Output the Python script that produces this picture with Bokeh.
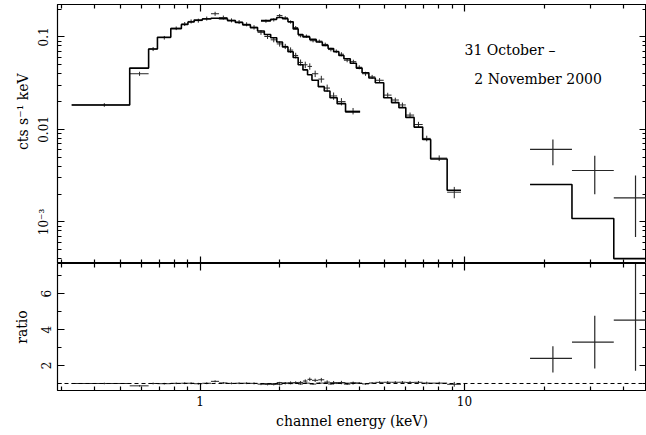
import math
import json
import numpy as np
from bokeh.plotting import figure
from bokeh.layouts import column
from bokeh.models import FixedTicker, LogAxis, LinearAxis, Range1d, Label, Span, CustomJSTickFormatter
from bokeh.embed import file_html
from bokeh.resources import INLINE

# ---------------- data ----------------
lecs_edges = [0.327, 0.542, 0.639, 0.69, 0.775, 0.85, 0.90, 0.95, 1.02, 1.10, 1.18,
              1.27, 1.36, 1.45, 1.55, 1.65, 1.75, 1.85, 1.95, 2.05, 2.15, 2.25, 2.35,
              2.45, 2.55, 2.65, 2.80, 2.95, 3.10, 3.30, 3.55, 4.03]
lecs_model = [0.0184, 0.046, 0.074, 0.099, 0.123, 0.136, 0.145, 0.152, 0.156, 0.159,
              0.157, 0.150, 0.143, 0.135, 0.126, 0.116, 0.106, 0.098, 0.088, 0.078,
              0.069, 0.060, 0.050, 0.044, 0.039, 0.034, 0.029, 0.026, 0.022, 0.019, 0.0155]
lecs_data = [0.0184, 0.040, 0.074, 0.098, 0.124, 0.138, 0.147, 0.150, 0.158, 0.178,
             0.162, 0.151, 0.145, 0.137, 0.127, 0.112, 0.101, 0.093, 0.084, 0.079,
             0.072, 0.063, 0.053, 0.050, 0.048, 0.040, 0.035, 0.028, 0.023, 0.020, 0.0158]
lecs_relerr = [0.045, 0.05, 0.05, 0.045, 0.045, 0.05, 0.05, 0.05, 0.05, 0.05,
               0.05, 0.05, 0.05, 0.05, 0.055, 0.06, 0.06, 0.06, 0.065, 0.065,
               0.07, 0.07, 0.075, 0.08, 0.08, 0.08, 0.085, 0.09, 0.09, 0.09, 0.08]

mecs_edges = [1.70, 1.85, 1.95, 2.05, 2.15, 2.25, 2.35, 2.45, 2.60, 2.75, 2.90, 3.05,
              3.20, 3.35, 3.50, 3.70, 3.90, 4.10, 4.35, 4.60, 4.95, 5.30, 5.65, 6.00,
              6.45, 6.95, 7.45, 8.60, 9.70]
mecs_model = [0.150, 0.155, 0.162, 0.157, 0.146, 0.122, 0.106, 0.100, 0.094, 0.088,
              0.081, 0.075, 0.069, 0.063, 0.058, 0.052, 0.046, 0.041, 0.036, 0.032,
              0.022, 0.0195, 0.0172, 0.0135, 0.0106, 0.0078, 0.0048, 0.0022]
mecs_data = [0.148, 0.153, 0.170, 0.161, 0.145, 0.126, 0.103, 0.102, 0.091, 0.090,
             0.083, 0.073, 0.070, 0.065, 0.056, 0.054, 0.047, 0.040, 0.037, 0.034,
             0.0235, 0.0208, 0.0184, 0.0143, 0.0113, 0.0080, 0.0049, 0.0021]
mecs_relerr = [0.04, 0.04, 0.04, 0.04, 0.04, 0.04, 0.04, 0.04, 0.04, 0.04,
               0.045, 0.045, 0.045, 0.05, 0.05, 0.05, 0.05, 0.05, 0.05, 0.055,
               0.06, 0.06, 0.06, 0.065, 0.07, 0.07, 0.07, 0.14]

pds_edges = [17.7, 25.5, 36.7, 52.0]
pds_model = [0.00254, 0.00109, 0.000402]
pds_data = [0.0061, 0.0036, 0.00182]
pds_err_lo = [0.0020, 0.0016, 0.00113]
pds_err_hi = [0.0017, 0.0016, 0.00135]

x_tick_labels = {1: "1", 10: "10"}
y_tick_labels = {0.001: "10\u207b\u00b3", 0.01: "0.01", 0.1: "0.1"}
ratio_tick_labels = {2: "2", 4: "4", 6: "6"}
annotation_lines = ["31 October \u2013", "2 November 2000"]
x_title = "channel energy (keV)"
y_title = "cts s\u207b\u00b9 keV"
ratio_title = "ratio"

# ---------------- styling ----------------
FONT = "DejaVu Serif"
INK = "black"
PT = "#262626"

x_major = [1, 10]
x_minor = [k * 10.0 ** e for e in (-1, 0, 1) for k in range(2, 10)]
y_major = list(y_tick_labels.keys())
y_minor = [k * 10.0 ** e for e in (-4, -3, -2, -1) for k in range(2, 10)]
r_major = list(ratio_tick_labels.keys())
r_minor = [1, 3, 5, 7]


def style_axis(ax, show_labels):
    ax.major_tick_in = 7
    ax.major_tick_out = 0
    ax.minor_tick_in = 4
    ax.minor_tick_out = 0
    ax.axis_line_color = INK
    ax.axis_line_width = 1.2
    ax.major_tick_line_color = INK
    ax.minor_tick_line_color = INK
    ax.major_tick_line_width = 1.2
    ax.minor_tick_line_width = 1.2
    ax.major_label_text_font = FONT
    ax.major_label_text_font_size = "12px"
    ax.major_label_text_color = INK
    ax.axis_label_text_font = FONT
    ax.axis_label_text_font_size = "14px"
    ax.axis_label_text_font_style = "normal"
    ax.axis_label_text_color = INK
    ax.major_label_standoff = 4
    ax.axis_label_standoff = 3
    if not show_labels:
        ax.formatter = CustomJSTickFormatter(code="return ''")
        ax.major_label_text_font_size = "1px"
        ax.major_label_text_alpha = 0
        ax.major_label_standoff = 0


def log_label_formatter(labels):
    m = {str(round(math.log10(k))): v for k, v in labels.items()}
    return CustomJSTickFormatter(code="const m = %s; const k = String(Math.round(Math.log10(tick))); "
                                      "return (k in m) ? m[k] : '';" % json.dumps(m))


def lin_label_formatter(labels):
    m = {str(k): v for k, v in labels.items()}
    return CustomJSTickFormatter(code="const m = %s; const k = String(Math.round(tick)); "
                                      "return (k in m) ? m[k] : '';" % json.dumps(m))


def step_xy(edges, vals):
    xs, ys = [], []
    for i, v in enumerate(vals):
        xs += [edges[i], edges[i + 1]]
        ys += [v, v]
    return xs, ys


def cross_segments(edges, yv, lo, hi):
    e = np.asarray(edges, float)
    xc = (e[:-1] + e[1:]) / 2
    yv = np.asarray(yv, float)
    return dict(hx0=e[:-1], hx1=e[1:], hy=yv,
                vx=xc, vy0=yv - np.asarray(lo, float), vy1=yv + np.asarray(hi, float))


X_RANGE = Range1d(0.289, 48.8)
W = 642

# ---------------- top panel ----------------
p1 = figure(width=W, height=259, x_axis_type="log", y_axis_type="log",
            x_range=X_RANGE, y_range=Range1d(3.56e-4, 0.224),
            output_backend="svg", toolbar_location=None,
            min_border_left=53, min_border_right=0, min_border_top=0, min_border_bottom=0)
p1.grid.visible = False
p1.outline_line_color = INK

p1.xaxis.ticker = FixedTicker(ticks=x_major, minor_ticks=x_minor)
p1.yaxis.ticker = FixedTicker(ticks=y_major, minor_ticks=y_minor)
p1.yaxis.formatter = log_label_formatter(y_tick_labels)
p1.yaxis.axis_label = "\u00a0" * 10 + y_title
style_axis(p1.xaxis[0], False)
style_axis(p1.yaxis[0], True)
p1.yaxis.major_label_orientation = "vertical"
p1.yaxis.major_label_standoff = 6
p1.yaxis.axis_label_standoff = 4
ax_top = LogAxis(ticker=FixedTicker(ticks=x_major, minor_ticks=x_minor))
style_axis(ax_top, False)
p1.add_layout(ax_top, "above")
ax_right = LogAxis(ticker=FixedTicker(ticks=y_major, minor_ticks=y_minor))
style_axis(ax_right, False)
p1.add_layout(ax_right, "right")

for edges, model, data, relerr in [(lecs_edges, lecs_model, lecs_data, lecs_relerr),
                                   (mecs_edges, mecs_model, mecs_data, mecs_relerr)]:
    err = np.asarray(data) * np.asarray(relerr)
    c = cross_segments(edges, data, err, err)
    p1.segment(c["hx0"], c["hy"], c["hx1"], c["hy"], line_color=PT, line_width=1)
    p1.segment(c["vx"], c["vy0"], c["vx"], c["vy1"], line_color=PT, line_width=1)
    sx, sy = step_xy(edges, model)
    p1.line(sx, sy, line_color=INK, line_width=1.6)

c = cross_segments(pds_edges, pds_data, pds_err_lo, pds_err_hi)
p1.segment(c["hx0"], c["hy"], c["hx1"], c["hy"], line_color=PT, line_width=1.2)
p1.segment(c["vx"], c["vy0"], c["vx"], c["vy1"], line_color=PT, line_width=1.2)
sx, sy = step_xy(pds_edges, pds_model)
p1.line(sx, sy, line_color=INK, line_width=1.6)

p1.add_layout(Label(x=10.0, y=0.0715, text=annotation_lines[0], text_font=FONT,
                    text_font_size="14px", text_color=INK, text_baseline="alphabetic"))
p1.add_layout(Label(x=10.9, y=0.0352, text=annotation_lines[1], text_font=FONT,
                    text_font_size="14px", text_color=INK, text_baseline="alphabetic"))

# ---------------- ratio panel ----------------
p2 = figure(width=W, height=168, x_axis_type="log",
            x_range=X_RANGE, y_range=Range1d(0.61, 7.68),
            output_backend="svg", toolbar_location=None,
            min_border_left=53, min_border_right=0, min_border_top=0, min_border_bottom=41)
p2.grid.visible = False
p2.outline_line_color = INK
p2.xaxis.ticker = FixedTicker(ticks=x_major, minor_ticks=x_minor)
p2.xaxis.major_label_overrides = x_tick_labels
p2.xaxis.axis_label = x_title
p2.yaxis.ticker = FixedTicker(ticks=r_major, minor_ticks=r_minor)
p2.yaxis.formatter = lin_label_formatter(ratio_tick_labels)
p2.yaxis.axis_label = ratio_title
style_axis(p2.xaxis[0], True)
style_axis(p2.yaxis[0], True)
p2.yaxis.major_label_orientation = "vertical"
p2.yaxis.major_label_standoff = 6
p2.yaxis.axis_label_standoff = 9
p2.xaxis.major_label_standoff = 5
p2.xaxis.axis_label_standoff = 4
ax_top2 = LogAxis(ticker=FixedTicker(ticks=x_major, minor_ticks=x_minor))
style_axis(ax_top2, False)
p2.add_layout(ax_top2, "above")
ax_right2 = LinearAxis(ticker=FixedTicker(ticks=r_major, minor_ticks=r_minor))
style_axis(ax_right2, False)
p2.add_layout(ax_right2, "right")

p2.add_layout(Span(location=1, dimension="width", line_color=INK, line_width=1,
                   line_dash="4 3"))

for edges, model, data, relerr in [(lecs_edges, lecs_model, lecs_data, lecs_relerr),
                                   (mecs_edges, mecs_model, mecs_data, mecs_relerr)]:
    m = np.asarray(model)
    d = np.asarray(data)
    r = d / m
    e = d * np.asarray(relerr) / m
    c = cross_segments(edges, r, e, e)
    p2.segment(c["hx0"], c["hy"], c["hx1"], c["hy"], line_color=PT, line_width=1)
    p2.segment(c["vx"], c["vy0"], c["vx"], c["vy1"], line_color=PT, line_width=1)

m = np.asarray(pds_model)
r = np.asarray(pds_data) / m
c = cross_segments(pds_edges, r, np.asarray(pds_err_lo) / m, np.asarray(pds_err_hi) / m)
p2.segment(c["hx0"], c["hy"], c["hx1"], c["hy"], line_color=PT, line_width=1.2)
p2.segment(c["vx"], c["vy0"], c["vx"], c["vy1"], line_color=PT, line_width=1.2)

layout = column(p1, p2, margin=(4, 0, 0, 4), spacing=0)
open("out.html", "w").write(file_html(layout, INLINE))
